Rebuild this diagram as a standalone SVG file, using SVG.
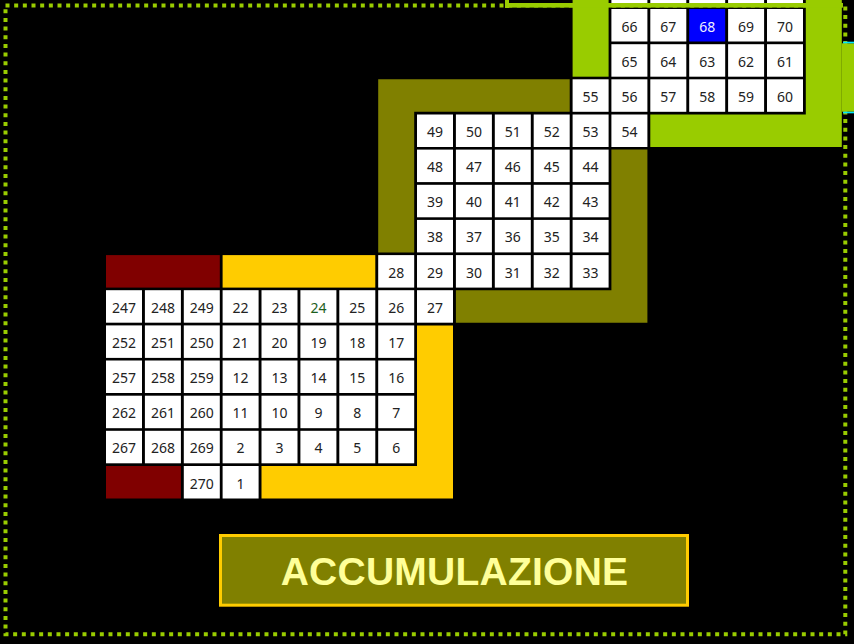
<svg xmlns="http://www.w3.org/2000/svg" width="854" height="644" viewBox="0 0 854 644">
<style>
.c{fill:#ffffff}
.b{fill:#0000ff}
.t{font-family:"Noto Sans","DejaVu Sans",sans-serif;font-size:14px;fill:#222222;text-anchor:middle}
.tw{fill:#f0f0ff}
.tg{fill:#1d5e1d}
.green{fill:#99cc00}
.olive{fill:#808000}
.maroon{fill:#800000}
.yellow{fill:#ffcc00}
</style>
<rect x="0" y="0" width="854" height="644" fill="#000000"/>
<rect x="5.5" y="5.5" width="839.8" height="628.8" fill="none" stroke="#99cc00" stroke-width="4" stroke-dasharray="4 4.667"/>
<g id="bands">
<rect class="maroon" x="106" y="255.1" width="113.8" height="32.5"/>
<rect class="maroon" x="106" y="466" width="74.9" height="32.5"/>
<rect class="yellow" x="222.6" y="255.1" width="152.7" height="32.5"/>
<path class="yellow" d="M417,325.4 H453 V498.5 H261.5 V466 H417 Z"/>
<path class="olive" d="M378.2,79.3 H569.7 V111.8 H414.2 V252.4 H378.2 Z"/>
<path class="olive" d="M611.4,149.6 H647.4 V322.7 H455.9 V290.2 H611.4 Z"/>
<rect class="green" x="572.6" y="0" width="36" height="76.7"/>
<path class="green" d="M805.8,0 H841.8 V147 H650.3 V114.5 H805.8 Z"/>
<rect class="green" x="841.8" y="43.3" width="12.2" height="68.4"/>
<rect fill="#00e5ff" x="843" y="41.7" width="11" height="1.6"/>
<rect fill="#00e5ff" x="843" y="111.7" width="11" height="1.6"/>
<rect class="c" x="611.4" y="0" width="36" height="3"/>
<rect class="c" x="650.3" y="0" width="36" height="3"/>
<rect class="c" x="689.2" y="0" width="36" height="3"/>
<rect class="c" x="728.1" y="0" width="36" height="3"/>
<rect class="c" x="767" y="0" width="36" height="3"/>
<rect class="green" x="505" y="3" width="338" height="4.6"/>
<rect class="green" x="505" y="0" width="4" height="8"/>
</g>
<g id="cells">
<g id="n66" transform="translate(611.4,9)"><rect class="c" width="36" height="32.5"/><text class="t" x="18" y="22.5">66</text></g>
<g id="n67" transform="translate(650.3,9)"><rect class="c" width="36" height="32.5"/><text class="t" x="18" y="22.5">67</text></g>
<g id="n68" transform="translate(689.2,9)"><rect class="b" width="36" height="32.5"/><text class="t tw" x="18" y="22.5">68</text></g>
<g id="n69" transform="translate(728.1,9)"><rect class="c" width="36" height="32.5"/><text class="t" x="18" y="22.5">69</text></g>
<g id="n70" transform="translate(767,9)"><rect class="c" width="36" height="32.5"/><text class="t" x="18" y="22.5">70</text></g>
<g id="n65" transform="translate(611.4,44.2)"><rect class="c" width="36" height="32.5"/><text class="t" x="18" y="22.5">65</text></g>
<g id="n64" transform="translate(650.3,44.2)"><rect class="c" width="36" height="32.5"/><text class="t" x="18" y="22.5">64</text></g>
<g id="n63" transform="translate(689.2,44.2)"><rect class="c" width="36" height="32.5"/><text class="t" x="18" y="22.5">63</text></g>
<g id="n62" transform="translate(728.1,44.2)"><rect class="c" width="36" height="32.5"/><text class="t" x="18" y="22.5">62</text></g>
<g id="n61" transform="translate(767,44.2)"><rect class="c" width="36" height="32.5"/><text class="t" x="18" y="22.5">61</text></g>
<g id="n55" transform="translate(572.6,79.3)"><rect class="c" width="36" height="32.5"/><text class="t" x="18" y="22.5">55</text></g>
<g id="n56" transform="translate(611.4,79.3)"><rect class="c" width="36" height="32.5"/><text class="t" x="18" y="22.5">56</text></g>
<g id="n57" transform="translate(650.3,79.3)"><rect class="c" width="36" height="32.5"/><text class="t" x="18" y="22.5">57</text></g>
<g id="n58" transform="translate(689.2,79.3)"><rect class="c" width="36" height="32.5"/><text class="t" x="18" y="22.5">58</text></g>
<g id="n59" transform="translate(728.1,79.3)"><rect class="c" width="36" height="32.5"/><text class="t" x="18" y="22.5">59</text></g>
<g id="n60" transform="translate(767,79.3)"><rect class="c" width="36" height="32.5"/><text class="t" x="18" y="22.5">60</text></g>
<g id="n49" transform="translate(417,114.5)"><rect class="c" width="36" height="32.5"/><text class="t" x="18" y="22.5">49</text></g>
<g id="n50" transform="translate(455.9,114.5)"><rect class="c" width="36" height="32.5"/><text class="t" x="18" y="22.5">50</text></g>
<g id="n51" transform="translate(494.8,114.5)"><rect class="c" width="36" height="32.5"/><text class="t" x="18" y="22.5">51</text></g>
<g id="n52" transform="translate(533.7,114.5)"><rect class="c" width="36" height="32.5"/><text class="t" x="18" y="22.5">52</text></g>
<g id="n53" transform="translate(572.6,114.5)"><rect class="c" width="36" height="32.5"/><text class="t" x="18" y="22.5">53</text></g>
<g id="n54" transform="translate(611.4,114.5)"><rect class="c" width="36" height="32.5"/><text class="t" x="18" y="22.5">54</text></g>
<g id="n48" transform="translate(417,149.6)"><rect class="c" width="36" height="32.5"/><text class="t" x="18" y="22.5">48</text></g>
<g id="n47" transform="translate(455.9,149.6)"><rect class="c" width="36" height="32.5"/><text class="t" x="18" y="22.5">47</text></g>
<g id="n46" transform="translate(494.8,149.6)"><rect class="c" width="36" height="32.5"/><text class="t" x="18" y="22.5">46</text></g>
<g id="n45" transform="translate(533.7,149.6)"><rect class="c" width="36" height="32.5"/><text class="t" x="18" y="22.5">45</text></g>
<g id="n44" transform="translate(572.6,149.6)"><rect class="c" width="36" height="32.5"/><text class="t" x="18" y="22.5">44</text></g>
<g id="n39" transform="translate(417,184.8)"><rect class="c" width="36" height="32.5"/><text class="t" x="18" y="22.5">39</text></g>
<g id="n40" transform="translate(455.9,184.8)"><rect class="c" width="36" height="32.5"/><text class="t" x="18" y="22.5">40</text></g>
<g id="n41" transform="translate(494.8,184.8)"><rect class="c" width="36" height="32.5"/><text class="t" x="18" y="22.5">41</text></g>
<g id="n42" transform="translate(533.7,184.8)"><rect class="c" width="36" height="32.5"/><text class="t" x="18" y="22.5">42</text></g>
<g id="n43" transform="translate(572.6,184.8)"><rect class="c" width="36" height="32.5"/><text class="t" x="18" y="22.5">43</text></g>
<g id="n38" transform="translate(417,219.9)"><rect class="c" width="36" height="32.5"/><text class="t" x="18" y="22.5">38</text></g>
<g id="n37" transform="translate(455.9,219.9)"><rect class="c" width="36" height="32.5"/><text class="t" x="18" y="22.5">37</text></g>
<g id="n36" transform="translate(494.8,219.9)"><rect class="c" width="36" height="32.5"/><text class="t" x="18" y="22.5">36</text></g>
<g id="n35" transform="translate(533.7,219.9)"><rect class="c" width="36" height="32.5"/><text class="t" x="18" y="22.5">35</text></g>
<g id="n34" transform="translate(572.6,219.9)"><rect class="c" width="36" height="32.5"/><text class="t" x="18" y="22.5">34</text></g>
<g id="n28" transform="translate(378.2,255.1)"><rect class="c" width="36" height="32.5"/><text class="t" x="18" y="22.5">28</text></g>
<g id="n29" transform="translate(417,255.1)"><rect class="c" width="36" height="32.5"/><text class="t" x="18" y="22.5">29</text></g>
<g id="n30" transform="translate(455.9,255.1)"><rect class="c" width="36" height="32.5"/><text class="t" x="18" y="22.5">30</text></g>
<g id="n31" transform="translate(494.8,255.1)"><rect class="c" width="36" height="32.5"/><text class="t" x="18" y="22.5">31</text></g>
<g id="n32" transform="translate(533.7,255.1)"><rect class="c" width="36" height="32.5"/><text class="t" x="18" y="22.5">32</text></g>
<g id="n33" transform="translate(572.6,255.1)"><rect class="c" width="36" height="32.5"/><text class="t" x="18" y="22.5">33</text></g>
<g id="n247" transform="translate(106,290.2)"><rect class="c" width="36" height="32.5"/><text class="t" x="18" y="22.5">247</text></g>
<g id="n248" transform="translate(144.9,290.2)"><rect class="c" width="36" height="32.5"/><text class="t" x="18" y="22.5">248</text></g>
<g id="n249" transform="translate(183.8,290.2)"><rect class="c" width="36" height="32.5"/><text class="t" x="18" y="22.5">249</text></g>
<g id="n22" transform="translate(222.6,290.2)"><rect class="c" width="36" height="32.5"/><text class="t" x="18" y="22.5">22</text></g>
<g id="n23" transform="translate(261.5,290.2)"><rect class="c" width="36" height="32.5"/><text class="t" x="18" y="22.5">23</text></g>
<g id="n24" transform="translate(300.4,290.2)"><rect class="c" width="36" height="32.5"/><text class="t tg" x="18" y="22.5">24</text></g>
<g id="n25" transform="translate(339.3,290.2)"><rect class="c" width="36" height="32.5"/><text class="t" x="18" y="22.5">25</text></g>
<g id="n26" transform="translate(378.2,290.2)"><rect class="c" width="36" height="32.5"/><text class="t" x="18" y="22.5">26</text></g>
<g id="n27" transform="translate(417,290.2)"><rect class="c" width="36" height="32.5"/><text class="t" x="18" y="22.5">27</text></g>
<g id="n252" transform="translate(106,325.4)"><rect class="c" width="36" height="32.5"/><text class="t" x="18" y="22.5">252</text></g>
<g id="n251" transform="translate(144.9,325.4)"><rect class="c" width="36" height="32.5"/><text class="t" x="18" y="22.5">251</text></g>
<g id="n250" transform="translate(183.8,325.4)"><rect class="c" width="36" height="32.5"/><text class="t" x="18" y="22.5">250</text></g>
<g id="n21" transform="translate(222.6,325.4)"><rect class="c" width="36" height="32.5"/><text class="t" x="18" y="22.5">21</text></g>
<g id="n20" transform="translate(261.5,325.4)"><rect class="c" width="36" height="32.5"/><text class="t" x="18" y="22.5">20</text></g>
<g id="n19" transform="translate(300.4,325.4)"><rect class="c" width="36" height="32.5"/><text class="t" x="18" y="22.5">19</text></g>
<g id="n18" transform="translate(339.3,325.4)"><rect class="c" width="36" height="32.5"/><text class="t" x="18" y="22.5">18</text></g>
<g id="n17" transform="translate(378.2,325.4)"><rect class="c" width="36" height="32.5"/><text class="t" x="18" y="22.5">17</text></g>
<g id="n257" transform="translate(106,360.5)"><rect class="c" width="36" height="32.5"/><text class="t" x="18" y="22.5">257</text></g>
<g id="n258" transform="translate(144.9,360.5)"><rect class="c" width="36" height="32.5"/><text class="t" x="18" y="22.5">258</text></g>
<g id="n259" transform="translate(183.8,360.5)"><rect class="c" width="36" height="32.5"/><text class="t" x="18" y="22.5">259</text></g>
<g id="n12" transform="translate(222.6,360.5)"><rect class="c" width="36" height="32.5"/><text class="t" x="18" y="22.5">12</text></g>
<g id="n13" transform="translate(261.5,360.5)"><rect class="c" width="36" height="32.5"/><text class="t" x="18" y="22.5">13</text></g>
<g id="n14" transform="translate(300.4,360.5)"><rect class="c" width="36" height="32.5"/><text class="t" x="18" y="22.5">14</text></g>
<g id="n15" transform="translate(339.3,360.5)"><rect class="c" width="36" height="32.5"/><text class="t" x="18" y="22.5">15</text></g>
<g id="n16" transform="translate(378.2,360.5)"><rect class="c" width="36" height="32.5"/><text class="t" x="18" y="22.5">16</text></g>
<g id="n262" transform="translate(106,395.7)"><rect class="c" width="36" height="32.5"/><text class="t" x="18" y="22.5">262</text></g>
<g id="n261" transform="translate(144.9,395.7)"><rect class="c" width="36" height="32.5"/><text class="t" x="18" y="22.5">261</text></g>
<g id="n260" transform="translate(183.8,395.7)"><rect class="c" width="36" height="32.5"/><text class="t" x="18" y="22.5">260</text></g>
<g id="n11" transform="translate(222.6,395.7)"><rect class="c" width="36" height="32.5"/><text class="t" x="18" y="22.5">11</text></g>
<g id="n10" transform="translate(261.5,395.7)"><rect class="c" width="36" height="32.5"/><text class="t" x="18" y="22.5">10</text></g>
<g id="n9" transform="translate(300.4,395.7)"><rect class="c" width="36" height="32.5"/><text class="t" x="18" y="22.5">9</text></g>
<g id="n8" transform="translate(339.3,395.7)"><rect class="c" width="36" height="32.5"/><text class="t" x="18" y="22.5">8</text></g>
<g id="n7" transform="translate(378.2,395.7)"><rect class="c" width="36" height="32.5"/><text class="t" x="18" y="22.5">7</text></g>
<g id="n267" transform="translate(106,430.8)"><rect class="c" width="36" height="32.5"/><text class="t" x="18" y="22.5">267</text></g>
<g id="n268" transform="translate(144.9,430.8)"><rect class="c" width="36" height="32.5"/><text class="t" x="18" y="22.5">268</text></g>
<g id="n269" transform="translate(183.8,430.8)"><rect class="c" width="36" height="32.5"/><text class="t" x="18" y="22.5">269</text></g>
<g id="n2" transform="translate(222.6,430.8)"><rect class="c" width="36" height="32.5"/><text class="t" x="18" y="22.5">2</text></g>
<g id="n3" transform="translate(261.5,430.8)"><rect class="c" width="36" height="32.5"/><text class="t" x="18" y="22.5">3</text></g>
<g id="n4" transform="translate(300.4,430.8)"><rect class="c" width="36" height="32.5"/><text class="t" x="18" y="22.5">4</text></g>
<g id="n5" transform="translate(339.3,430.8)"><rect class="c" width="36" height="32.5"/><text class="t" x="18" y="22.5">5</text></g>
<g id="n6" transform="translate(378.2,430.8)"><rect class="c" width="36" height="32.5"/><text class="t" x="18" y="22.5">6</text></g>
<g id="n270" transform="translate(183.8,466)"><rect class="c" width="36" height="32.5"/><text class="t" x="18" y="22.5">270</text></g>
<g id="n1" transform="translate(222.6,466)"><rect class="c" width="36" height="32.5"/><text class="t" x="18" y="22.5">1</text></g>
</g>
<g id="connectors"></g>
<g id="banner">
<rect x="220.5" y="535.5" width="467" height="69.7" fill="#808000" stroke="#ffcc00" stroke-width="3"/>
<text x="454.5" y="585" font-family="'Liberation Sans',Arial,sans-serif" font-size="39" font-weight="bold" fill="#ffff99" text-anchor="middle" letter-spacing="0.25">ACCUMULAZIONE</text>
</g>
</svg>
